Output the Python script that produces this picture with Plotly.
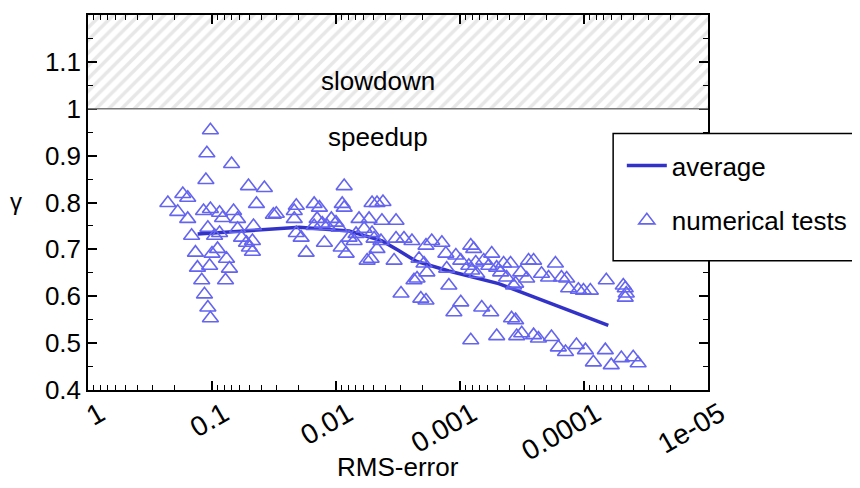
import plotly.graph_objects as go

# ---------------- data ----------------
rms_error = [
    0.103, 0.110, 0.0695, 0.112, 0.172, 0.157, 0.227, 0.189, 0.157, 0.0508,
    0.0378, 0.0438, 0.032, 0.117, 0.103, 0.0869, 0.067, 0.0822, 0.0622, 0.108,
    0.146, 0.0869, 0.0622, 0.0463, 0.0953, 0.0578, 0.0527, 0.0499, 0.0472, 0.136,
    0.100, 0.0902, 0.0764, 0.131, 0.1045, 0.0723, 0.121, 0.0778, 0.115, 0.108,
    0.103, 0.0472,
    0.00859, 0.0209, 0.0217, 0.0150, 0.0136, 0.00891, 0.00859, 0.00512, 0.00467, 0.00418,
    0.0303, 0.0217, 0.00652, 0.00541, 0.00426, 0.00328, 0.0209, 0.0191, 0.0174, 0.0150,
    0.0129, 0.0118, 0.0100, 0.00942, 0.0124, 0.00908, 0.00828, 0.00784, 0.00714, 0.00593,
    0.00512, 0.00493, 0.00434, 0.00467, 0.00521, 0.00561, 0.0034, 0.00328, 0.0142, 0.0109,
    0.00689,
    0.00283, 0.00244, 0.00188, 0.00169, 0.0014, 0.0013, 0.00214, 0.00195, 0.00185, 0.00235,
    0.00222, 0.00123, 0.00299, 0.00207, 0.00188, 0.000819, 0.000775, 0.00108, 0.000986, 0.00128,
    0.000849, 0.000746, 0.000644, 0.000555, 0.000586, 0.000506, 0.000445, 0.000391, 0.00047, 0.00037,
    0.000986, 0.00112, 0.000668, 0.000565, 0.000384, 0.000819, 0.000506, 0.000349, 0.000804, 0.000733,
    0.000421,
    0.00028, 0.000255, 0.00017, 0.00022, 0.000193, 0.000152, 0.000138, 0.000324, 0.00029, 0.000356,
    0.000133, 0.000111, 0.000101, 0.0000889, 0.0000661, 0.0000482, 0.0000465, 0.0000456, 0.0000465, 0.000356,
    0.000318, 0.000255, 0.000233, 0.000183, 0.000161, 0.000141, 0.000115, 0.0000974, 0.000084, 0.0000673,
    0.0000603, 0.00005, 0.0000401, 0.0000366,
]
gamma = [
    0.954, 0.905, 0.882, 0.848, 0.818, 0.810, 0.799, 0.780, 0.765, 0.835,
    0.831, 0.797, 0.774, 0.782, 0.786, 0.778, 0.782, 0.767, 0.765, 0.746,
    0.729, 0.735, 0.744, 0.750, 0.729, 0.725, 0.714, 0.704, 0.695, 0.693,
    0.691, 0.701, 0.680, 0.661, 0.665, 0.659, 0.634, 0.634, 0.604, 0.576,
    0.553, 0.718,
    0.835, 0.793, 0.782, 0.797, 0.789, 0.797, 0.789, 0.799, 0.799, 0.801,
    0.776, 0.765, 0.765, 0.765, 0.761, 0.761, 0.735, 0.725, 0.693, 0.750,
    0.755, 0.750, 0.757, 0.746, 0.714, 0.704, 0.691, 0.725, 0.718, 0.744,
    0.735, 0.723, 0.718, 0.701, 0.680, 0.676, 0.676, 0.723, 0.765, 0.765,
    0.733,
    0.723, 0.718, 0.708, 0.718, 0.714, 0.691, 0.680, 0.670, 0.651, 0.634,
    0.638, 0.623, 0.606, 0.595, 0.591, 0.708, 0.701, 0.687, 0.676, 0.659,
    0.665, 0.672, 0.676, 0.691, 0.665, 0.661, 0.670, 0.670, 0.651, 0.623,
    0.587, 0.566, 0.576, 0.566, 0.553, 0.506, 0.515, 0.515, 0.655, 0.648,
    0.640,
    0.676, 0.676, 0.670, 0.648, 0.640, 0.640, 0.638, 0.651, 0.638, 0.627,
    0.617, 0.614, 0.612, 0.612, 0.634, 0.623, 0.617, 0.606, 0.597, 0.549,
    0.521, 0.517, 0.510, 0.513, 0.491, 0.481, 0.496, 0.485, 0.459, 0.485,
    0.453, 0.468, 0.470, 0.457,
]

avg_rms = [0.1305, 0.0499, 0.0198, 0.00783, 0.00425, 0.0031, 0.00227, 0.00123, 0.000488, 0.0000637]
avg_gamma = [0.733, 0.741, 0.747, 0.739, 0.718, 0.697, 0.675, 0.654, 0.627, 0.538]

x_tick_vals = [1, 0.1, 0.01, 0.001, 0.0001, 0.00001]
x_tick_text = ["1", "0.1", "0.01", "0.001", "0.0001", "1e-05"]
y_tick_vals = [0.4, 0.5, 0.6, 0.7, 0.8, 0.9, 1.0, 1.1]
y_tick_text = ["0.4", "0.5", "0.6", "0.7", "0.8", "0.9", "1", "1.1"]

x_limits = [1, 0.00001]
y_limits = [0.4, 1.2]
slowdown_threshold = 1.0

FONT = "Liberation Sans, Arial, Helvetica, sans-serif"
FS = 26

# minor tick positions on the log axis (2..9 in each decade)
minor_x = [m * d for d in [1, 0.1, 0.01, 0.001, 0.0001, 0.00001] for m in range(2, 10) if m * d < 1]
minor_y = [0.45, 0.55, 0.65, 0.75, 0.85, 0.95, 1.05, 1.15]

fig = go.Figure()

# hatched "slowdown" region
fig.add_trace(go.Scatter(
    x=[x_limits[0], x_limits[1], x_limits[1], x_limits[0], x_limits[0]],
    y=[slowdown_threshold, slowdown_threshold, y_limits[1], y_limits[1], slowdown_threshold],
    mode="lines", line=dict(width=0), fill="toself",
    fillcolor="white",
    fillpattern=dict(shape="/", fgcolor="#d0d0d0", bgcolor="white", size=9, solidity=0.4),
    showlegend=False, hoverinfo="skip",
))

fig.add_trace(go.Scatter(
    x=avg_rms, y=avg_gamma, mode="lines", name="average",
    line=dict(color="#3232c8", width=3.5), legendgroup="a",
))
fig.add_trace(go.Scatter(
    x=rms_error, y=gamma, mode="markers", name="numerical tests",
    marker=dict(symbol="triangle-up-open", size=14, color="#6464f0",
                line=dict(width=1.6, color="#6464f0")),
    legendgroup="b",
))

fig.add_shape(type="line", xref="paper", yref="y", x0=0, x1=1,
              y0=slowdown_threshold, y1=slowdown_threshold,
              line=dict(color="#7a7a7a", width=1.5))

# legend frame (runs off the right edge, as in the reference)
fig.add_shape(type="rect", xref="paper", yref="paper", x0=0.847, x1=1.27, y0=0.345, y1=0.684,
              line=dict(color="black", width=1.5), fillcolor="white", layer="above")

fig.add_annotation(x=0.468, xref="paper", y=1.06, yref="y", text="slowdown",
                   showarrow=False, font=dict(size=FS, family=FONT, color="black"))
fig.add_annotation(x=0.468, xref="paper", y=0.939, yref="y", text="speedup",
                   showarrow=False, font=dict(size=FS, family=FONT, color="black"))
fig.add_annotation(x=-0.129, xref="paper", xanchor="left", y=0.504, yref="paper", text="γ",
                   showarrow=False, textangle=0, font=dict(size=24, family=FONT, color="black"))
fig.add_annotation(x=0.5, xref="paper", y=-0.205, yref="paper", yanchor="middle",
                   text="RMS-error", showarrow=False,
                   font=dict(size=FS, family=FONT, color="black"))

fig.update_xaxes(
    type="log", range=[0, -5], tickmode="array", tickvals=x_tick_vals, ticktext=x_tick_text,
    tickangle=-30, ticks="inside", ticklen=9, tickwidth=1.5, tickcolor="black",
    showline=True, linecolor="black", linewidth=1.5, mirror="allticks",
    showgrid=False, zeroline=False,
    ticklabelstandoff=-5, ticklabelshift=-12,
    tickfont=dict(size=28, family=FONT, color="black"),
    minor=dict(tickmode="array", tickvals=minor_x, ticks="inside", ticklen=5,
               tickwidth=1.2, tickcolor="black", showgrid=False),
)
fig.update_yaxes(
    range=y_limits, tickmode="array", tickvals=y_tick_vals, ticktext=y_tick_text,
    ticks="inside", ticklen=9, tickwidth=1.5, tickcolor="black",
    showline=True, linecolor="black", linewidth=1.5, mirror="allticks",
    showgrid=False, zeroline=False,
    tickfont=dict(size=FS, family=FONT, color="black"),
    minor=dict(tickmode="array", tickvals=minor_y, ticks="inside", ticklen=5,
               tickwidth=1.2, tickcolor="black", showgrid=False),
)

fig.update_layout(
    width=860, height=488,
    margin=dict(l=80, r=160, t=5, b=106),
    plot_bgcolor="white", paper_bgcolor="white",
    font=dict(family=FONT, color="black"),
    showlegend=True,
    legend=dict(x=0.861, y=0.661, xanchor="left", yanchor="top",
                bgcolor="rgba(0,0,0,0)", borderwidth=0,
                font=dict(size=FS, family=FONT, color="black"),
                traceorder="grouped", tracegroupgap=18, itemwidth=40),
)

fig.write_html("out.html")
